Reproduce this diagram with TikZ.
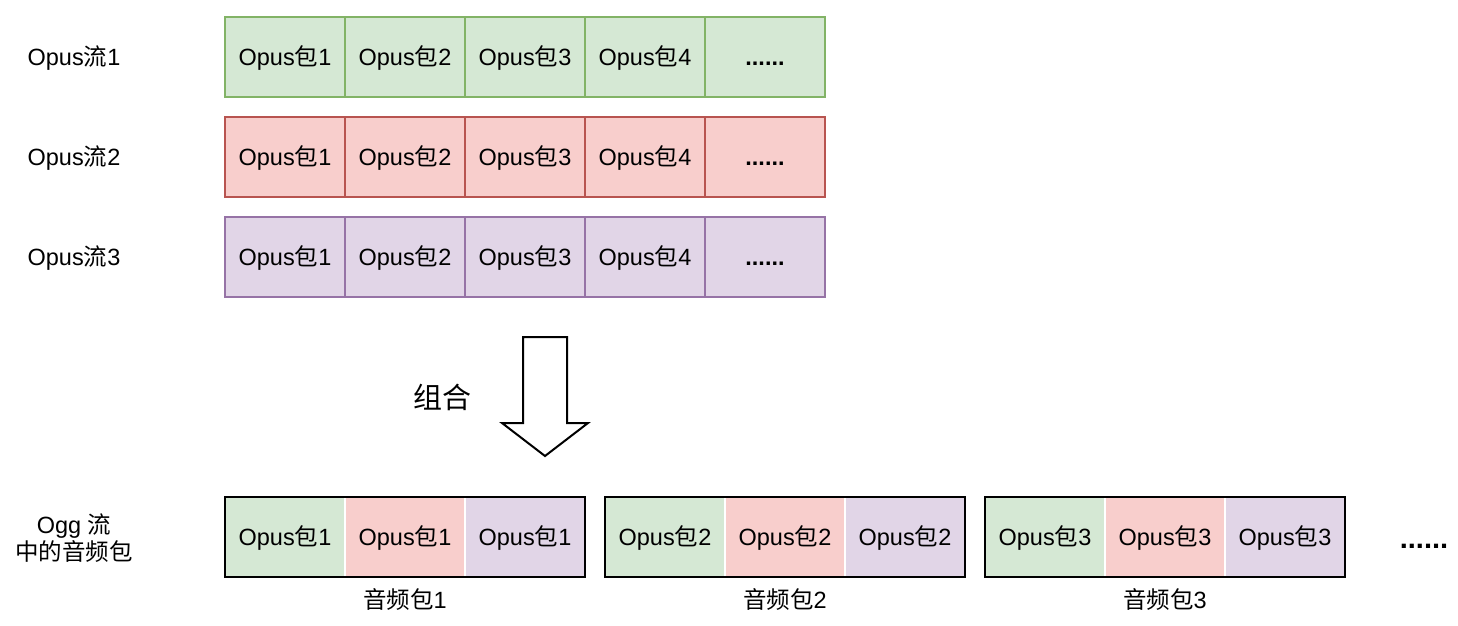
\documentclass[tikz,border=0pt]{standalone}
\usepackage{fontspec}
\setmainfont{Liberation Sans}
\newfontfamily\cjk{Noto Sans CJK SC}
\usetikzlibrary{positioning,fit,calc}

\definecolor{grnline}{HTML}{82B366}
\definecolor{grnfill}{HTML}{D5E8D4}
\definecolor{redline}{HTML}{B85450}
\definecolor{redfill}{HTML}{F8CECC}
\definecolor{violine}{HTML}{9673A6}
\definecolor{viofill}{HTML}{E1D5E7}

\newcommand{\pkt}[1]{Opus{\cjk 包}#1}

\begin{document}
\begin{tikzpicture}
            [
            x=1pt, y=-1pt,
            txt/.style={font=\fontsize{23.5}{28}\selectfont, inner sep=0pt,
                text height=16.5pt, text depth=0pt},
            cell/.style={txt, rectangle, minimum width=120pt,
                minimum height=80pt, outer sep=0pt, line width=1.6pt,
                draw=#1line, fill=#1fill},
            mix/.style={txt, rectangle, minimum width=120pt,
                minimum height=80pt, outer sep=0pt, line width=1.6pt,
                draw=white, fill=#1fill},
            frame/.style={rectangle, draw, line width=2pt, inner sep=0pt}
            ]
            \useasboundingbox (0,0) rectangle (1458,626);

            % Opus streams
            \foreach \r/\c/\y in {1/grn/57,2/red/157,3/vio/257} {
                \node (s\r) at (74,\y) [txt] {Opus{\cjk 流}\r};
                \node (p\r1) at (285,\y) [cell=\c] {\pkt{1}};
                \foreach \k [count=\j from 1] in {2,3,4}
                    \node (p\r\k) [right=0pt of p\r\j, cell=\c] {\pkt{\k}};
                \node (p\r5) [right=0pt of p\r4, cell=\c, font=\bfseries\fontsize{23.5}{28}\selectfont] {......};
            }

            % merge arrow
            \node (merge) at (442,397) [font=\cjk\fontsize{29}{32}\selectfont] {组合};
            \draw [line width=2pt, line join=miter]
                (523,337) -- (567,337) -- (567,423) -- (588,423) -- (545,456)
                -- (502,423) -- (523,423) -- cycle;

            % Ogg audio packets
            \node (ogg) at (74,538) [font=\fontsize{23.5}{27}\selectfont, align=center]
                {Ogg {\cjk 流}\\{\cjk 中的音频包}};
            \foreach \g/\x in {1/285,2/665,3/1045} {
                \node (a\g1) at (\x,537) [mix=grn] {\pkt{\g}};
                \node (a\g2) [right=0pt of a\g1, mix=red] {\pkt{\g}};
                \node (a\g3) [right=0pt of a\g2, mix=vio] {\pkt{\g}};
                \node (f\g) [fit=(a\g1) (a\g3), frame] {};
                \node (l\g) at ($(f\g.south)+(0,22)$) [txt] {{\cjk 音频包}\g};
            }
            \node (more) at (1424,548) [anchor=base, font=\bfseries\fontsize{29}{30}\selectfont] {......};
        \end{tikzpicture}
\end{document}
